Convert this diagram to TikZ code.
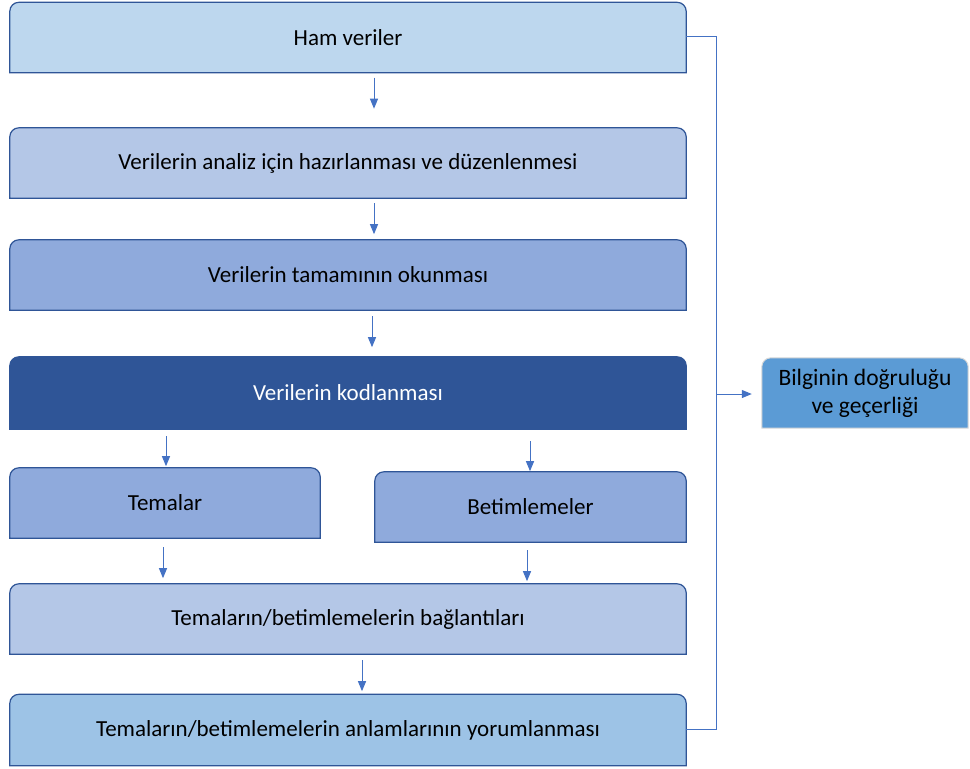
\documentclass[tikz,border=0pt]{standalone}
\usepackage{fontspec}
\setmainfont{Carlito}
\usetikzlibrary{backgrounds,arrows.meta}
\definecolor{hamfill}{HTML}{BDD7EE}
\definecolor{midfill}{HTML}{B4C7E7}
\definecolor{darkfill}{HTML}{8FAADC}
\definecolor{kodfill}{HTML}{2F5597}
\definecolor{yorumfill}{HTML}{9DC3E6}
\definecolor{bilgifill}{HTML}{5B9BD5}
\definecolor{edge}{HTML}{4472C4}
\begin{document}
\begin{tikzpicture}[x=1pt,y=-1pt]
\tikzstyle{stage}=[inner sep=0pt,minimum width=676pt,minimum height=70pt,font=\fontsize{23}{27}\selectfont]
\tikzstyle{half}=[stage,minimum width=310pt]
\tikzstyle{arr}=[draw=edge,line width=1pt,-{Triangle[length=10pt,width=8pt]}]
\tikzstyle{frame}=[draw=kodfill,line width=1.2pt]
\useasboundingbox (0,0) rectangle (970,769);
\node[stage] (ham) at (348,37.5) {Ham veriler};
\node[stage] (duzen) at (348,163) {Verilerin analiz için hazırlanması ve düzenlenmesi};
\node[stage] (okuma) at (348,275) {Verilerin tamamının okunması};
\node[stage,minimum height=72pt,text=white] (kod) at (348,393) {Verilerin kodlanması};
\node[half] (tema) at (165,503) {Temalar};
\node[half,minimum width=311pt] (betim) at (530.5,507) {Betimlemeler};
\node[stage] (bag) at (348,619) {Temaların/betimlemelerin bağlantıları};
\node[stage,minimum height=71pt] (yorum) at (348,730) {Temaların/betimlemelerin anlamlarının yorumlanması};
\node[stage,minimum width=206pt,align=center,font=\fontsize{23.5}{28}\selectfont] (bilgi) at (865,393) {Bilginin doğruluğu\\ve geçerliği};
\begin{scope}[on background layer]
\foreach \n/\c in {ham/hamfill,duzen/midfill,okuma/darkfill,kod/kodfill,tema/darkfill,betim/darkfill,bag/midfill,yorum/yorumfill}
  \draw[frame,fill=\c] (\n.south west) -- ([yshift=-9pt]\n.north west) arc[start angle=180,end angle=90,radius=9pt]
    -- ([xshift=-9pt]\n.north east) arc[start angle=90,end angle=0,radius=9pt] -- (\n.south east) -- cycle;
\draw[draw=black!15,line width=1pt,fill=bilgifill] (bilgi.south west) -- ([yshift=-9pt]bilgi.north west) arc[start angle=180,end angle=90,radius=9pt]
    -- ([xshift=-9pt]bilgi.north east) arc[start angle=90,end angle=0,radius=9pt] -- (bilgi.south east) -- cycle;
\end{scope}
% arrows between the stages
\draw[arr] ([xshift=26pt,yshift=-5pt]ham.south) -- ++(0,31);
\draw[arr] ([xshift=26pt,yshift=-5pt]duzen.south) -- ++(0,31);
\draw[arr] ([xshift=24pt,yshift=-6pt]okuma.south) -- ++(0,31);
\draw[arr] ([xshift=-182pt,yshift=-7pt]kod.south) -- ++(0,30);
\draw[arr] ([xshift=182pt,yshift=-12pt]kod.south) -- ++(0,30);
\draw[arr] ([xshift=-2pt,yshift=-9pt]tema.south) -- ++(0,31);
\draw[arr] ([xshift=-3.5pt,yshift=-8pt]betim.south) -- ++(0,31);
\draw[arr] ([xshift=14pt,yshift=-6pt]bag.south) -- ++(0,31);
% side line
\coordinate (top) at (716,36);
\coordinate (bot) at (716,729);
\coordinate (mid) at (716,394);
\draw[draw=edge,line width=1pt] (ham.east |- top) -- (top) -- (bot) -- (yorum.east |- bot);
\draw[arr,shorten >=10pt] (mid) -- (bilgi.west |- mid);
\end{tikzpicture}
\end{document}
